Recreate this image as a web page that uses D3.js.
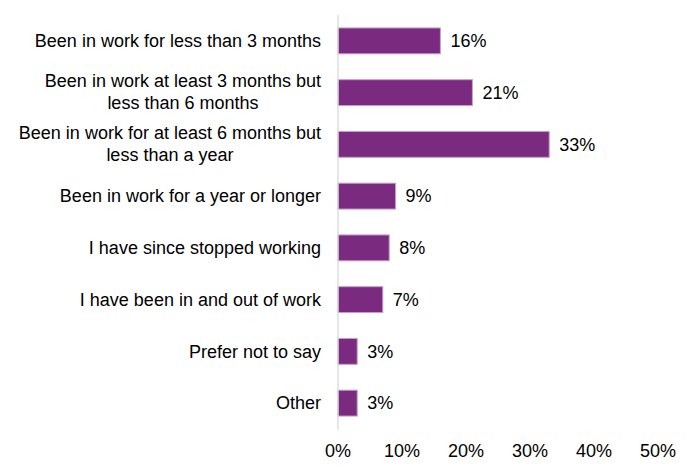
<!DOCTYPE html>
<html>
<head>
<meta charset="utf-8">
<script src="https://cdn.jsdelivr.net/npm/d3@7"></script>
<style>
  html, body { margin: 0; padding: 0; background: #fff; }
  svg { display: block; font-family: "Liberation Sans", Arial, sans-serif; }
</style>
</head>
<body>
<svg id="chart" width="689" height="470"></svg>
<script>
"use strict";

// categories, each line of a wrapped label is its own string
const categories = [
    ["Been in work for less than 3 months"],
    ["Been in work at least 3 months but", "less than 6 months"],
    ["Been in work for at least 6 months but", "less than a year"],
    ["Been in work for a year or longer"],
    ["I have since stopped working"],
    ["I have been in and out of work"],
    ["Prefer not to say"],
    ["Other"]
];
const values = [16, 21, 33, 9, 8, 7, 3, 3];
const ticks = [0, 10, 20, 30, 40, 50];

const svg = d3.select("#chart");
const plotLeft = 338, plotRight = 658, plotTop = 15, plotBottom = 429;
const fontSize = "18px";

const x = d3.scaleLinear().domain([0, 50]).range([plotLeft, plotRight]);
const y = d3.scaleBand()
    .domain(d3.range(categories.length))
    .range([plotTop, plotBottom])
    .paddingInner(0.5)
    .paddingOuter(0.25);

// bars
svg.append("g")
    .selectAll("rect")
    .data(values)
    .enter().append("rect")
    .attr("x", x(0))
    .attr("y", (d, i) => y(i))
    .attr("width", (d) => x(d) - x(0))
    .attr("height", y.bandwidth())
    .attr("fill", "#7a2a7f")
    .attr("stroke", "#c6a0c9")
    .attr("stroke-width", 1);

// vertical axis line
svg.append("line")
    .attr("x1", plotLeft).attr("x2", plotLeft)
    .attr("y1", plotTop).attr("y2", plotBottom + 1)
    .attr("stroke", "#d9d9d9")
    .attr("stroke-width", 1.3);

// value labels
svg.append("g")
    .selectAll("text")
    .data(values)
    .enter().append("text")
    .attr("x", (d) => x(d) + 10)
    .attr("y", (d, i) => y(i) + y.bandwidth() / 2)
    .attr("dy", "0.35em")
    .attr("font-size", fontSize)
    .attr("fill", "#000")
    .text((d) => d + "%");

// category labels: block right-aligned, lines centred within block
const lineH = 22;
const labelRight = 321;
const labels = svg.append("g")
    .selectAll("text")
    .data(categories)
    .enter().append("text")
    .attr("font-size", fontSize)
    .attr("fill", "#000")
    .attr("text-anchor", "middle");

labels.each(function (lines, i) {
    const t = d3.select(this);
    const cy = y(i) + y.bandwidth() / 2;
    const y0 = cy - (lines.length - 1) * lineH / 2 - (lines.length > 1 ? 1 : 0);
    lines.forEach((ln, k) => {
        t.append("tspan")
            .attr("y", y0 + k * lineH)
            .attr("dy", "0.35em")
            .text(ln);
    });
    let w = 0;
    t.selectAll("tspan").each(function () {
        w = Math.max(w, this.getComputedTextLength());
    });
    t.selectAll("tspan").attr("x", labelRight - w / 2);
});

// x axis tick labels
svg.append("g")
    .selectAll("text")
    .data(ticks)
    .enter().append("text")
    .attr("x", (d) => x(d))
    .attr("y", 457)
    .attr("text-anchor", "middle")
    .attr("font-size", fontSize)
    .attr("fill", "#000")
    .text((d) => d + "%");
</script>
</body>
</html>
